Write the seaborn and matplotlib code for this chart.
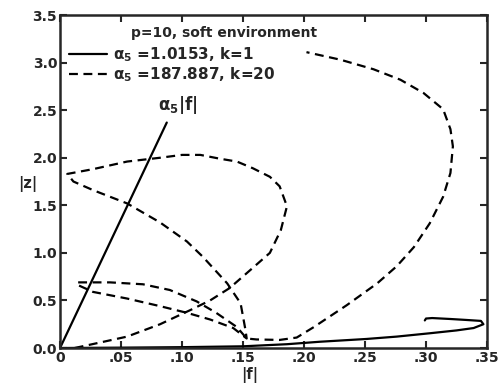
import numpy as np
import pandas as pd
import seaborn as sns
import matplotlib
matplotlib.use('Agg')
import matplotlib.pyplot as plt

sns.set_style('ticks')
plt.rcParams['font.family'] = ['DejaVu Sans']
plt.rcParams['font.weight'] = 'bold'
plt.rcParams['mathtext.default'] = 'bf'

# alpha_s |f| straight line
f_lin = [0.0, 0.0875]
z_lin = [0.0, 2.37]

# k=1 curve (solid)
f_k1 = [0.0, 0.05, 0.10, 0.15, 0.186, 0.213, 0.251, 0.276, 0.303, 0.325, 0.339,
        0.347, 0.345, 0.333, 0.32, 0.305, 0.300, 0.299]
z_k1 = [0.0, 0.004, 0.009, 0.018, 0.04, 0.066, 0.095, 0.12, 0.155, 0.185, 0.21,
        0.25, 0.285, 0.295, 0.305, 0.315, 0.31, 0.29]

# k=20 curve (dashed)
f_k20 = [0.012, 0.03, 0.055, 0.082, 0.107, 0.123, 0.139, 0.156, 0.172, 0.181, 0.186,
         0.18, 0.172, 0.158, 0.145, 0.131, 0.115, 0.10, 0.082, 0.055, 0.027, 0.006,
         0.011, 0.027, 0.055, 0.082, 0.104, 0.117, 0.137, 0.148, 0.152, 0.153,
         0.142, 0.123, 0.104, 0.082, 0.055, 0.027, 0.015, 0.0137,
         0.041, 0.068, 0.09, 0.112, 0.128, 0.145, 0.153,
         0.161, 0.18, 0.194, 0.208, 0.235, 0.26, 0.276, 0.29, 0.303, 0.314, 0.32,
         0.322, 0.32, 0.314, 0.298, 0.279, 0.257, 0.23, 0.202]
z_k20 = [0.0, 0.05, 0.12, 0.25, 0.40, 0.50, 0.63, 0.82, 1.0, 1.24, 1.49,
         1.70, 1.80, 1.89, 1.96, 1.99, 2.03, 2.03, 2.0, 1.96, 1.88, 1.83,
         1.75, 1.66, 1.52, 1.32, 1.12, 0.96, 0.68, 0.47, 0.19, 0.10,
         0.21, 0.30, 0.37, 0.44, 0.52, 0.59, 0.66, 0.69,
         0.69, 0.67, 0.61, 0.49, 0.37, 0.22, 0.10,
         0.09, 0.085, 0.11, 0.22, 0.45, 0.68, 0.86, 1.06, 1.31, 1.59, 1.84,
         2.12, 2.30, 2.51, 2.68, 2.82, 2.93, 3.03, 3.11]

xticks = [0, 0.05, 0.10, 0.15, 0.20, 0.25, 0.30, 0.35]
xtick_labels = ['0', '.05', '.10', '.15', '.20', '.25', '.30', '.35']
yticks = [0.0, 0.5, 1.0, 1.5, 2.0, 2.5, 3.0, 3.5]

fig = plt.figure(figsize=(4.98, 3.86), dpi=100)
ax = fig.add_axes([0.1205, 0.0984, 0.8575, 0.8626])

df1 = pd.DataFrame({'f': f_k1, 'z': z_k1})
df20 = pd.DataFrame({'f': f_k20, 'z': z_k20})
dfl = pd.DataFrame({'f': f_lin, 'z': z_lin})

sns.lineplot(data=df1, x='f', y='z', sort=False, estimator=None, color='black', lw=1.6,
             ax=ax, label=r'$\alpha_5$ =1.0153, k=1')
sns.lineplot(data=df20, x='f', y='z', sort=False, estimator=None, color='black', lw=1.6,
             dashes=False, ax=ax, label=r'$\alpha_5$ =187.887, k=20')
ax.lines[-1].set_dashes((4, 2.5))
sns.lineplot(data=dfl, x='f', y='z', sort=False, estimator=None, color='black', lw=1.6, ax=ax)

ax.set_xlim(0, 0.35)
ax.set_ylim(0, 3.5)
ax.set_xticks(xticks)
ax.set_xticklabels(xtick_labels)
ax.set_yticks(yticks)
ax.set_yticklabels([f'{v:.1f}' for v in yticks])
ax.tick_params(direction='in', length=5, width=1.5, top=True, right=True,
               labelsize=10, pad=2)
# last label sits a bit left of its tick, as in the original
for lab in ax.get_xticklabels()[-1:]:
    lab.set_x(0.3485)
for s in ax.spines.values():
    s.set_linewidth(1.8)

ax.set_xlabel('|f|', fontsize=10.5, fontweight='bold')
ax.set_ylabel('|z|', fontsize=10.5, fontweight='bold', rotation=0)
ax.xaxis.set_label_coords(0.445, -0.058)
ax.yaxis.set_label_coords(-0.075, 0.47)

ax.text(0.384, 0.946, 'p=10, soft environment', transform=ax.transAxes,
        ha='center', va='center', fontsize=10, fontweight='bold')
ax.text(0.08, 2.55, r'$\alpha_5$|f|', fontsize=12, fontweight='bold', va='center')

ax.legend(loc='upper left', bbox_to_anchor=(0.02, 0.91), frameon=False,
          fontsize=11, handlelength=2.5, handletextpad=0.4, labelspacing=0.1,
          borderpad=0, borderaxespad=0)

plt.savefig('out.png', dpi=100)
